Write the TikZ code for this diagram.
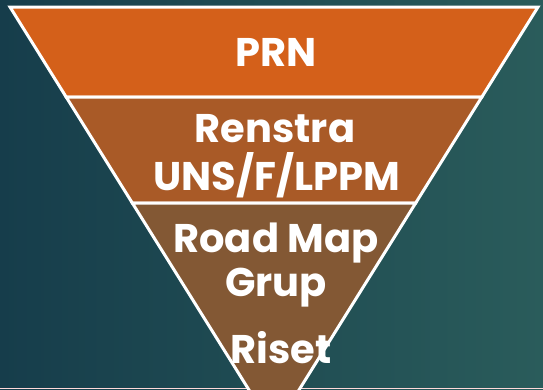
\documentclass[tikz,border=0pt]{standalone}
\usepackage{fontspec}
\newfontfamily\gothic{Poppins}
\usetikzlibrary{calc}

\definecolor{bgleft}{HTML}{163D4B}
\definecolor{bgright}{HTML}{2A5C5B}
\definecolor{bandprn}{HTML}{D4601A}
\definecolor{bandrenstra}{HTML}{A95A27}
\definecolor{bandgrup}{HTML}{835834}

\tikzset{
  band/.style={draw=white, line width=3pt, line join=miter},
  lbl/.style={text=white, font=\gothic\bfseries\fontsize{40}{48}\selectfont, inner sep=0pt, anchor=base}
}

\begin{document}
\begin{tikzpicture}[x=1pt, y=-1pt]
  \useasboundingbox (0,0) rectangle (543,389);
  \shade[left color=bgleft, right color=bgright] (0,0) rectangle (543,389);
  \draw[color=red!15!white, line width=1.5pt] (0,388.5) -- (543,388.5);

  \coordinate (tl) at (10,7);
  \coordinate (tr) at (538,7);
  \coordinate (apex) at (274,430);
  \coordinate (l1) at ($(tl)!0.2128!(apex)$);
  \coordinate (r1) at ($(tr)!0.2128!(apex)$);
  \coordinate (l2) at ($(tl)!0.4634!(apex)$);
  \coordinate (r2) at ($(tr)!0.4634!(apex)$);

  \path[band, fill=bandprn] (tl) -- (tr) -- (r1) -- (l1) -- cycle;
  \path[band, fill=bandrenstra] (l1) -- (r1) -- (r2) -- (l2) -- cycle;
  \path[band, fill=bandgrup] (l2) -- (r2) -- (apex) -- cycle;

  \node[lbl] (prn) at (276,66) {PRN};
  \node[lbl] (renstra) at (275,142) {Renstra};
  \node[lbl] (uns) at (277,190) {UNS/F/LPPM};
  \node[lbl] (roadmap) at (276,252) {Road Map};
  \node[lbl] (grup) at (276,296) {Grup};
  \node[lbl] (riset) at (281,363) {Riset};
\end{tikzpicture}
\end{document}
